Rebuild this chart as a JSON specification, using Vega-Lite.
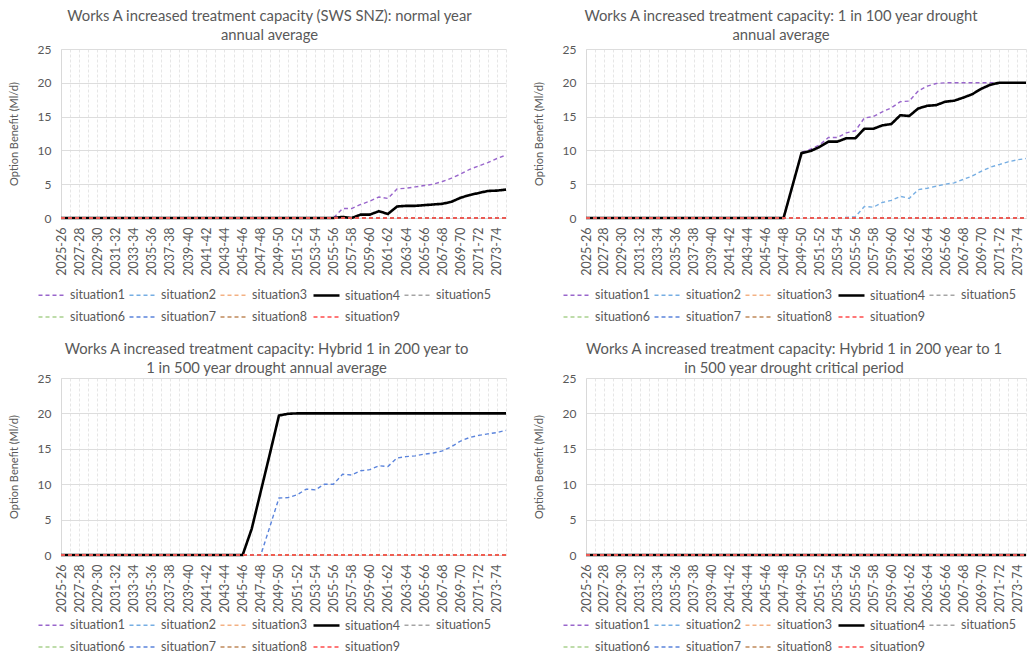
{
  "$schema": "https://vega.github.io/schema/vega-lite/v6.json",
  "background": "white",
  "padding": {"left": 8, "top": 9, "right": 0, "bottom": 0},
  "config": {
    "font": "Lato",
    "view": {"stroke": null},
    "title": {"fontSize": 14.8, "fontWeight": "normal", "color": "#595959", "lineHeight": 19, "offset": 0, "anchor": "middle"},
    "axis": {"labelColor": "#595959", "titleColor": "#595959", "titleFontWeight": "normal", "ticks": false, "domainColor": "#D9D9D9"},
    "axisX": {"title": null, "labelAngle": -90, "labelExpr": "toNumber(substring(datum.value,0,4)) % 2 == 1 ? datum.value : ''", "labelOverlap": false, "labelPadding": 9, "labelFontSize": 12.5, "grid": true, "gridDash": [3,2], "gridColor": "#E6E6E6"},
    "axisY": {"values": [0,5,10,15,20,25], "labelFontSize": 12, "labelPadding": 10, "titleFontSize": 11, "titlePadding": 18, "gridColor": "#DDDDDD", "domain": true},
    "legend": {"orient": "none", "legendX": -24, "direction": "horizontal", "columns": 5, "symbolType": "stroke", "symbolSize": 676, "labelFontSize": 12.5, "labelColor": "#595959", "rowPadding": 1, "columnPadding": 0, "labelOffset": 4},
    "line": {"strokeCap": "butt"}
  },
  "data": {"values": [
{"p":"A","year":"2025-26","s1":0,"s2":0,"s3":0,"s4":0,"s5":0,"s6":0,"s7":0,"s8":0,"s9":0},
{"p":"A","year":"2026-27","s1":0,"s2":0,"s3":0,"s4":0,"s5":0,"s6":0,"s7":0,"s8":0,"s9":0},
{"p":"A","year":"2027-28","s1":0,"s2":0,"s3":0,"s4":0,"s5":0,"s6":0,"s7":0,"s8":0,"s9":0},
{"p":"A","year":"2028-29","s1":0,"s2":0,"s3":0,"s4":0,"s5":0,"s6":0,"s7":0,"s8":0,"s9":0},
{"p":"A","year":"2029-30","s1":0,"s2":0,"s3":0,"s4":0,"s5":0,"s6":0,"s7":0,"s8":0,"s9":0},
{"p":"A","year":"2030-31","s1":0,"s2":0,"s3":0,"s4":0,"s5":0,"s6":0,"s7":0,"s8":0,"s9":0},
{"p":"A","year":"2031-32","s1":0,"s2":0,"s3":0,"s4":0,"s5":0,"s6":0,"s7":0,"s8":0,"s9":0},
{"p":"A","year":"2032-33","s1":0,"s2":0,"s3":0,"s4":0,"s5":0,"s6":0,"s7":0,"s8":0,"s9":0},
{"p":"A","year":"2033-34","s1":0,"s2":0,"s3":0,"s4":0,"s5":0,"s6":0,"s7":0,"s8":0,"s9":0},
{"p":"A","year":"2034-35","s1":0,"s2":0,"s3":0,"s4":0,"s5":0,"s6":0,"s7":0,"s8":0,"s9":0},
{"p":"A","year":"2035-36","s1":0,"s2":0,"s3":0,"s4":0,"s5":0,"s6":0,"s7":0,"s8":0,"s9":0},
{"p":"A","year":"2036-37","s1":0,"s2":0,"s3":0,"s4":0,"s5":0,"s6":0,"s7":0,"s8":0,"s9":0},
{"p":"A","year":"2037-38","s1":0,"s2":0,"s3":0,"s4":0,"s5":0,"s6":0,"s7":0,"s8":0,"s9":0},
{"p":"A","year":"2038-39","s1":0,"s2":0,"s3":0,"s4":0,"s5":0,"s6":0,"s7":0,"s8":0,"s9":0},
{"p":"A","year":"2039-40","s1":0,"s2":0,"s3":0,"s4":0,"s5":0,"s6":0,"s7":0,"s8":0,"s9":0},
{"p":"A","year":"2040-41","s1":0,"s2":0,"s3":0,"s4":0,"s5":0,"s6":0,"s7":0,"s8":0,"s9":0},
{"p":"A","year":"2041-42","s1":0,"s2":0,"s3":0,"s4":0,"s5":0,"s6":0,"s7":0,"s8":0,"s9":0},
{"p":"A","year":"2042-43","s1":0,"s2":0,"s3":0,"s4":0,"s5":0,"s6":0,"s7":0,"s8":0,"s9":0},
{"p":"A","year":"2043-44","s1":0,"s2":0,"s3":0,"s4":0,"s5":0,"s6":0,"s7":0,"s8":0,"s9":0},
{"p":"A","year":"2044-45","s1":0,"s2":0,"s3":0,"s4":0,"s5":0,"s6":0,"s7":0,"s8":0,"s9":0},
{"p":"A","year":"2045-46","s1":0,"s2":0,"s3":0,"s4":0,"s5":0,"s6":0,"s7":0,"s8":0,"s9":0},
{"p":"A","year":"2046-47","s1":0,"s2":0,"s3":0,"s4":0,"s5":0,"s6":0,"s7":0,"s8":0,"s9":0},
{"p":"A","year":"2047-48","s1":0,"s2":0,"s3":0,"s4":0,"s5":0,"s6":0,"s7":0,"s8":0,"s9":0},
{"p":"A","year":"2048-49","s1":0,"s2":0,"s3":0,"s4":0,"s5":0,"s6":0,"s7":0,"s8":0,"s9":0},
{"p":"A","year":"2049-50","s1":0,"s2":0,"s3":0,"s4":0,"s5":0,"s6":0,"s7":0,"s8":0,"s9":0},
{"p":"A","year":"2050-51","s1":0,"s2":0,"s3":0,"s4":0,"s5":0,"s6":0,"s7":0,"s8":0,"s9":0},
{"p":"A","year":"2051-52","s1":0,"s2":0,"s3":0,"s4":0,"s5":0,"s6":0,"s7":0,"s8":0,"s9":0},
{"p":"A","year":"2052-53","s1":0,"s2":0,"s3":0,"s4":0,"s5":0,"s6":0,"s7":0,"s8":0,"s9":0},
{"p":"A","year":"2053-54","s1":0,"s2":0,"s3":0,"s4":0,"s5":0,"s6":0,"s7":0,"s8":0,"s9":0},
{"p":"A","year":"2054-55","s1":0,"s2":0,"s3":0,"s4":0,"s5":0,"s6":0,"s7":0,"s8":0,"s9":0},
{"p":"A","year":"2055-56","s1":0,"s2":0,"s3":0,"s4":0,"s5":0,"s6":0,"s7":0,"s8":0,"s9":0},
{"p":"A","year":"2056-57","s1":1.4,"s2":0,"s3":0,"s4":0.15,"s5":0,"s6":0,"s7":0,"s8":0,"s9":0},
{"p":"A","year":"2057-58","s1":1.4,"s2":0,"s3":0,"s4":0,"s5":0,"s6":0,"s7":0,"s8":0,"s9":0},
{"p":"A","year":"2058-59","s1":2.0,"s2":0,"s3":0,"s4":0.5,"s5":0,"s6":0,"s7":0,"s8":0,"s9":0},
{"p":"A","year":"2059-60","s1":2.5,"s2":0,"s3":0,"s4":0.5,"s5":0,"s6":0,"s7":0,"s8":0,"s9":0},
{"p":"A","year":"2060-61","s1":3.1,"s2":0,"s3":0,"s4":1.0,"s5":0,"s6":0,"s7":0,"s8":0,"s9":0},
{"p":"A","year":"2061-62","s1":2.9,"s2":0,"s3":0,"s4":0.6,"s5":0,"s6":0,"s7":0,"s8":0,"s9":0},
{"p":"A","year":"2062-63","s1":4.3,"s2":0,"s3":0,"s4":1.7,"s5":0,"s6":0,"s7":0,"s8":0,"s9":0},
{"p":"A","year":"2063-64","s1":4.4,"s2":0,"s3":0,"s4":1.8,"s5":0,"s6":0,"s7":0,"s8":0,"s9":0},
{"p":"A","year":"2064-65","s1":4.6,"s2":0,"s3":0,"s4":1.8,"s5":0,"s6":0,"s7":0,"s8":0,"s9":0},
{"p":"A","year":"2065-66","s1":4.8,"s2":0,"s3":0,"s4":1.9,"s5":0,"s6":0,"s7":0,"s8":0,"s9":0},
{"p":"A","year":"2066-67","s1":5.0,"s2":0,"s3":0,"s4":2.0,"s5":0,"s6":0,"s7":0,"s8":0,"s9":0},
{"p":"A","year":"2067-68","s1":5.4,"s2":0,"s3":0,"s4":2.1,"s5":0,"s6":0,"s7":0,"s8":0,"s9":0},
{"p":"A","year":"2068-69","s1":5.9,"s2":0,"s3":0,"s4":2.4,"s5":0,"s6":0,"s7":0,"s8":0,"s9":0},
{"p":"A","year":"2069-70","s1":6.5,"s2":0,"s3":0,"s4":3.0,"s5":0,"s6":0,"s7":0,"s8":0,"s9":0},
{"p":"A","year":"2070-71","s1":7.2,"s2":0,"s3":0,"s4":3.4,"s5":0,"s6":0,"s7":0,"s8":0,"s9":0},
{"p":"A","year":"2071-72","s1":7.7,"s2":0,"s3":0,"s4":3.7,"s5":0,"s6":0,"s7":0,"s8":0,"s9":0},
{"p":"A","year":"2072-73","s1":8.2,"s2":0,"s3":0,"s4":4.0,"s5":0,"s6":0,"s7":0,"s8":0,"s9":0},
{"p":"A","year":"2073-74","s1":8.8,"s2":0,"s3":0,"s4":4.05,"s5":0,"s6":0,"s7":0,"s8":0,"s9":0},
{"p":"A","year":"2074-75","s1":9.3,"s2":0,"s3":0,"s4":4.2,"s5":0,"s6":0,"s7":0,"s8":0,"s9":0},
{"p":"B","year":"2025-26","s1":0,"s2":0,"s3":0,"s4":0,"s5":0,"s6":0,"s7":0,"s8":0,"s9":0},
{"p":"B","year":"2026-27","s1":0,"s2":0,"s3":0,"s4":0,"s5":0,"s6":0,"s7":0,"s8":0,"s9":0},
{"p":"B","year":"2027-28","s1":0,"s2":0,"s3":0,"s4":0,"s5":0,"s6":0,"s7":0,"s8":0,"s9":0},
{"p":"B","year":"2028-29","s1":0,"s2":0,"s3":0,"s4":0,"s5":0,"s6":0,"s7":0,"s8":0,"s9":0},
{"p":"B","year":"2029-30","s1":0,"s2":0,"s3":0,"s4":0,"s5":0,"s6":0,"s7":0,"s8":0,"s9":0},
{"p":"B","year":"2030-31","s1":0,"s2":0,"s3":0,"s4":0,"s5":0,"s6":0,"s7":0,"s8":0,"s9":0},
{"p":"B","year":"2031-32","s1":0,"s2":0,"s3":0,"s4":0,"s5":0,"s6":0,"s7":0,"s8":0,"s9":0},
{"p":"B","year":"2032-33","s1":0,"s2":0,"s3":0,"s4":0,"s5":0,"s6":0,"s7":0,"s8":0,"s9":0},
{"p":"B","year":"2033-34","s1":0,"s2":0,"s3":0,"s4":0,"s5":0,"s6":0,"s7":0,"s8":0,"s9":0},
{"p":"B","year":"2034-35","s1":0,"s2":0,"s3":0,"s4":0,"s5":0,"s6":0,"s7":0,"s8":0,"s9":0},
{"p":"B","year":"2035-36","s1":0,"s2":0,"s3":0,"s4":0,"s5":0,"s6":0,"s7":0,"s8":0,"s9":0},
{"p":"B","year":"2036-37","s1":0,"s2":0,"s3":0,"s4":0,"s5":0,"s6":0,"s7":0,"s8":0,"s9":0},
{"p":"B","year":"2037-38","s1":0,"s2":0,"s3":0,"s4":0,"s5":0,"s6":0,"s7":0,"s8":0,"s9":0},
{"p":"B","year":"2038-39","s1":0,"s2":0,"s3":0,"s4":0,"s5":0,"s6":0,"s7":0,"s8":0,"s9":0},
{"p":"B","year":"2039-40","s1":0,"s2":0,"s3":0,"s4":0,"s5":0,"s6":0,"s7":0,"s8":0,"s9":0},
{"p":"B","year":"2040-41","s1":0,"s2":0,"s3":0,"s4":0,"s5":0,"s6":0,"s7":0,"s8":0,"s9":0},
{"p":"B","year":"2041-42","s1":0,"s2":0,"s3":0,"s4":0,"s5":0,"s6":0,"s7":0,"s8":0,"s9":0},
{"p":"B","year":"2042-43","s1":0,"s2":0,"s3":0,"s4":0,"s5":0,"s6":0,"s7":0,"s8":0,"s9":0},
{"p":"B","year":"2043-44","s1":0,"s2":0,"s3":0,"s4":0,"s5":0,"s6":0,"s7":0,"s8":0,"s9":0},
{"p":"B","year":"2044-45","s1":0,"s2":0,"s3":0,"s4":0,"s5":0,"s6":0,"s7":0,"s8":0,"s9":0},
{"p":"B","year":"2045-46","s1":0,"s2":0,"s3":0,"s4":0,"s5":0,"s6":0,"s7":0,"s8":0,"s9":0},
{"p":"B","year":"2046-47","s1":0,"s2":0,"s3":0,"s4":0,"s5":0,"s6":0,"s7":0,"s8":0,"s9":0},
{"p":"B","year":"2047-48","s1":0,"s2":0,"s3":0,"s4":0,"s5":0,"s6":0,"s7":0,"s8":0,"s9":0},
{"p":"B","year":"2048-49","s1":4.8,"s2":0,"s3":0,"s4":4.8,"s5":0,"s6":0,"s7":0,"s8":0,"s9":0},
{"p":"B","year":"2049-50","s1":9.7,"s2":0,"s3":0,"s4":9.6,"s5":0,"s6":0,"s7":0,"s8":0,"s9":0},
{"p":"B","year":"2050-51","s1":10.2,"s2":0,"s3":0,"s4":9.9,"s5":0,"s6":0,"s7":0,"s8":0,"s9":0},
{"p":"B","year":"2051-52","s1":10.8,"s2":0,"s3":0,"s4":10.5,"s5":0,"s6":0,"s7":0,"s8":0,"s9":0},
{"p":"B","year":"2052-53","s1":11.9,"s2":0,"s3":0,"s4":11.3,"s5":0,"s6":0,"s7":0,"s8":0,"s9":0},
{"p":"B","year":"2053-54","s1":11.9,"s2":0,"s3":0,"s4":11.3,"s5":0,"s6":0,"s7":0,"s8":0,"s9":0},
{"p":"B","year":"2054-55","s1":12.6,"s2":0.1,"s3":0,"s4":11.8,"s5":0,"s6":0,"s7":0,"s8":0,"s9":0},
{"p":"B","year":"2055-56","s1":12.9,"s2":0.2,"s3":0,"s4":11.8,"s5":0,"s6":0,"s7":0,"s8":0,"s9":0},
{"p":"B","year":"2056-57","s1":14.8,"s2":1.7,"s3":0,"s4":13.2,"s5":0,"s6":0,"s7":0,"s8":0,"s9":0},
{"p":"B","year":"2057-58","s1":15.0,"s2":1.6,"s3":0,"s4":13.2,"s5":0,"s6":0,"s7":0,"s8":0,"s9":0},
{"p":"B","year":"2058-59","s1":15.7,"s2":2.3,"s3":0,"s4":13.7,"s5":0,"s6":0,"s7":0,"s8":0,"s9":0},
{"p":"B","year":"2059-60","s1":16.3,"s2":2.6,"s3":0,"s4":13.9,"s5":0,"s6":0,"s7":0,"s8":0,"s9":0},
{"p":"B","year":"2060-61","s1":17.2,"s2":3.2,"s3":0,"s4":15.2,"s5":0,"s6":0,"s7":0,"s8":0,"s9":0},
{"p":"B","year":"2061-62","s1":17.3,"s2":2.9,"s3":0,"s4":15.1,"s5":0,"s6":0,"s7":0,"s8":0,"s9":0},
{"p":"B","year":"2062-63","s1":18.8,"s2":4.2,"s3":0,"s4":16.2,"s5":0,"s6":0,"s7":0,"s8":0,"s9":0},
{"p":"B","year":"2063-64","s1":19.5,"s2":4.4,"s3":0,"s4":16.6,"s5":0,"s6":0,"s7":0,"s8":0,"s9":0},
{"p":"B","year":"2064-65","s1":19.9,"s2":4.7,"s3":0,"s4":16.7,"s5":0,"s6":0,"s7":0,"s8":0,"s9":0},
{"p":"B","year":"2065-66","s1":20,"s2":5.0,"s3":0,"s4":17.2,"s5":0,"s6":0,"s7":0,"s8":0,"s9":0},
{"p":"B","year":"2066-67","s1":20,"s2":5.2,"s3":0,"s4":17.35,"s5":0,"s6":0,"s7":0,"s8":0,"s9":0},
{"p":"B","year":"2067-68","s1":20,"s2":5.7,"s3":0,"s4":17.8,"s5":0,"s6":0,"s7":0,"s8":0,"s9":0},
{"p":"B","year":"2068-69","s1":20,"s2":6.2,"s3":0,"s4":18.3,"s5":0,"s6":0,"s7":0,"s8":0,"s9":0},
{"p":"B","year":"2069-70","s1":20,"s2":6.9,"s3":0,"s4":19.1,"s5":0,"s6":0,"s7":0,"s8":0,"s9":0},
{"p":"B","year":"2070-71","s1":20,"s2":7.5,"s3":0,"s4":19.7,"s5":0,"s6":0,"s7":0,"s8":0,"s9":0},
{"p":"B","year":"2071-72","s1":20,"s2":7.9,"s3":0,"s4":20,"s5":0,"s6":0,"s7":0,"s8":0,"s9":0},
{"p":"B","year":"2072-73","s1":20,"s2":8.3,"s3":0,"s4":20,"s5":0,"s6":0,"s7":0,"s8":0,"s9":0},
{"p":"B","year":"2073-74","s1":20,"s2":8.6,"s3":0,"s4":20,"s5":0,"s6":0,"s7":0,"s8":0,"s9":0},
{"p":"B","year":"2074-75","s1":20,"s2":8.8,"s3":0,"s4":20,"s5":0,"s6":0,"s7":0,"s8":0,"s9":0},
{"p":"C","year":"2025-26","s1":0,"s2":0,"s3":0,"s4":0,"s5":0,"s6":0,"s7":0,"s8":0,"s9":0},
{"p":"C","year":"2026-27","s1":0,"s2":0,"s3":0,"s4":0,"s5":0,"s6":0,"s7":0,"s8":0,"s9":0},
{"p":"C","year":"2027-28","s1":0,"s2":0,"s3":0,"s4":0,"s5":0,"s6":0,"s7":0,"s8":0,"s9":0},
{"p":"C","year":"2028-29","s1":0,"s2":0,"s3":0,"s4":0,"s5":0,"s6":0,"s7":0,"s8":0,"s9":0},
{"p":"C","year":"2029-30","s1":0,"s2":0,"s3":0,"s4":0,"s5":0,"s6":0,"s7":0,"s8":0,"s9":0},
{"p":"C","year":"2030-31","s1":0,"s2":0,"s3":0,"s4":0,"s5":0,"s6":0,"s7":0,"s8":0,"s9":0},
{"p":"C","year":"2031-32","s1":0,"s2":0,"s3":0,"s4":0,"s5":0,"s6":0,"s7":0,"s8":0,"s9":0},
{"p":"C","year":"2032-33","s1":0,"s2":0,"s3":0,"s4":0,"s5":0,"s6":0,"s7":0,"s8":0,"s9":0},
{"p":"C","year":"2033-34","s1":0,"s2":0,"s3":0,"s4":0,"s5":0,"s6":0,"s7":0,"s8":0,"s9":0},
{"p":"C","year":"2034-35","s1":0,"s2":0,"s3":0,"s4":0,"s5":0,"s6":0,"s7":0,"s8":0,"s9":0},
{"p":"C","year":"2035-36","s1":0,"s2":0,"s3":0,"s4":0,"s5":0,"s6":0,"s7":0,"s8":0,"s9":0},
{"p":"C","year":"2036-37","s1":0,"s2":0,"s3":0,"s4":0,"s5":0,"s6":0,"s7":0,"s8":0,"s9":0},
{"p":"C","year":"2037-38","s1":0,"s2":0,"s3":0,"s4":0,"s5":0,"s6":0,"s7":0,"s8":0,"s9":0},
{"p":"C","year":"2038-39","s1":0,"s2":0,"s3":0,"s4":0,"s5":0,"s6":0,"s7":0,"s8":0,"s9":0},
{"p":"C","year":"2039-40","s1":0,"s2":0,"s3":0,"s4":0,"s5":0,"s6":0,"s7":0,"s8":0,"s9":0},
{"p":"C","year":"2040-41","s1":0,"s2":0,"s3":0,"s4":0,"s5":0,"s6":0,"s7":0,"s8":0,"s9":0},
{"p":"C","year":"2041-42","s1":0,"s2":0,"s3":0,"s4":0,"s5":0,"s6":0,"s7":0,"s8":0,"s9":0},
{"p":"C","year":"2042-43","s1":0,"s2":0,"s3":0,"s4":0,"s5":0,"s6":0,"s7":0,"s8":0,"s9":0},
{"p":"C","year":"2043-44","s1":0,"s2":0,"s3":0,"s4":0,"s5":0,"s6":0,"s7":0,"s8":0,"s9":0},
{"p":"C","year":"2044-45","s1":0,"s2":0,"s3":0,"s4":0,"s5":0,"s6":0,"s7":0,"s8":0,"s9":0},
{"p":"C","year":"2045-46","s1":0,"s2":0,"s3":0,"s4":0,"s5":0,"s6":0,"s7":0,"s8":0,"s9":0},
{"p":"C","year":"2046-47","s1":0,"s2":0,"s3":0,"s4":3.7,"s5":0,"s6":0,"s7":0,"s8":0,"s9":0},
{"p":"C","year":"2047-48","s1":0,"s2":0,"s3":0,"s4":9.0,"s5":0,"s6":0,"s7":0,"s8":0,"s9":0},
{"p":"C","year":"2048-49","s1":0,"s2":0,"s3":0,"s4":14.3,"s5":0,"s6":0,"s7":4.0,"s8":0,"s9":0},
{"p":"C","year":"2049-50","s1":0,"s2":0,"s3":0,"s4":19.7,"s5":0,"s6":0,"s7":8.05,"s8":0,"s9":0},
{"p":"C","year":"2050-51","s1":0,"s2":0,"s3":0,"s4":19.95,"s5":0,"s6":0,"s7":8.1,"s8":0,"s9":0},
{"p":"C","year":"2051-52","s1":0,"s2":0,"s3":0,"s4":20,"s5":0,"s6":0,"s7":8.5,"s8":0,"s9":0},
{"p":"C","year":"2052-53","s1":0,"s2":0,"s3":0,"s4":20,"s5":0,"s6":0,"s7":9.3,"s8":0,"s9":0},
{"p":"C","year":"2053-54","s1":0,"s2":0,"s3":0,"s4":20,"s5":0,"s6":0,"s7":9.2,"s8":0,"s9":0},
{"p":"C","year":"2054-55","s1":0,"s2":0,"s3":0,"s4":20,"s5":0,"s6":0,"s7":10.0,"s8":0,"s9":0},
{"p":"C","year":"2055-56","s1":0,"s2":0,"s3":0,"s4":20,"s5":0,"s6":0,"s7":10.0,"s8":0,"s9":0},
{"p":"C","year":"2056-57","s1":0,"s2":0,"s3":0,"s4":20,"s5":0,"s6":0,"s7":11.4,"s8":0,"s9":0},
{"p":"C","year":"2057-58","s1":0,"s2":0,"s3":0,"s4":20,"s5":0,"s6":0,"s7":11.3,"s8":0,"s9":0},
{"p":"C","year":"2058-59","s1":0,"s2":0,"s3":0,"s4":20,"s5":0,"s6":0,"s7":11.9,"s8":0,"s9":0},
{"p":"C","year":"2059-60","s1":0,"s2":0,"s3":0,"s4":20,"s5":0,"s6":0,"s7":12.05,"s8":0,"s9":0},
{"p":"C","year":"2060-61","s1":0,"s2":0,"s3":0,"s4":20,"s5":0,"s6":0,"s7":12.6,"s8":0,"s9":0},
{"p":"C","year":"2061-62","s1":0,"s2":0,"s3":0,"s4":20,"s5":0,"s6":0,"s7":12.5,"s8":0,"s9":0},
{"p":"C","year":"2062-63","s1":0,"s2":0,"s3":0,"s4":20,"s5":0,"s6":0,"s7":13.7,"s8":0,"s9":0},
{"p":"C","year":"2063-64","s1":0,"s2":0,"s3":0,"s4":20,"s5":0,"s6":0,"s7":13.9,"s8":0,"s9":0},
{"p":"C","year":"2064-65","s1":0,"s2":0,"s3":0,"s4":20,"s5":0,"s6":0,"s7":14.0,"s8":0,"s9":0},
{"p":"C","year":"2065-66","s1":0,"s2":0,"s3":0,"s4":20,"s5":0,"s6":0,"s7":14.25,"s8":0,"s9":0},
{"p":"C","year":"2066-67","s1":0,"s2":0,"s3":0,"s4":20,"s5":0,"s6":0,"s7":14.4,"s8":0,"s9":0},
{"p":"C","year":"2067-68","s1":0,"s2":0,"s3":0,"s4":20,"s5":0,"s6":0,"s7":14.7,"s8":0,"s9":0},
{"p":"C","year":"2068-69","s1":0,"s2":0,"s3":0,"s4":20,"s5":0,"s6":0,"s7":15.3,"s8":0,"s9":0},
{"p":"C","year":"2069-70","s1":0,"s2":0,"s3":0,"s4":20,"s5":0,"s6":0,"s7":16.1,"s8":0,"s9":0},
{"p":"C","year":"2070-71","s1":0,"s2":0,"s3":0,"s4":20,"s5":0,"s6":0,"s7":16.6,"s8":0,"s9":0},
{"p":"C","year":"2071-72","s1":0,"s2":0,"s3":0,"s4":20,"s5":0,"s6":0,"s7":16.9,"s8":0,"s9":0},
{"p":"C","year":"2072-73","s1":0,"s2":0,"s3":0,"s4":20,"s5":0,"s6":0,"s7":17.1,"s8":0,"s9":0},
{"p":"C","year":"2073-74","s1":0,"s2":0,"s3":0,"s4":20,"s5":0,"s6":0,"s7":17.3,"s8":0,"s9":0},
{"p":"C","year":"2074-75","s1":0,"s2":0,"s3":0,"s4":20,"s5":0,"s6":0,"s7":17.6,"s8":0,"s9":0},
{"p":"D","year":"2025-26","s1":0,"s2":0,"s3":0,"s4":0,"s5":0,"s6":0,"s7":0,"s8":0,"s9":0},
{"p":"D","year":"2026-27","s1":0,"s2":0,"s3":0,"s4":0,"s5":0,"s6":0,"s7":0,"s8":0,"s9":0},
{"p":"D","year":"2027-28","s1":0,"s2":0,"s3":0,"s4":0,"s5":0,"s6":0,"s7":0,"s8":0,"s9":0},
{"p":"D","year":"2028-29","s1":0,"s2":0,"s3":0,"s4":0,"s5":0,"s6":0,"s7":0,"s8":0,"s9":0},
{"p":"D","year":"2029-30","s1":0,"s2":0,"s3":0,"s4":0,"s5":0,"s6":0,"s7":0,"s8":0,"s9":0},
{"p":"D","year":"2030-31","s1":0,"s2":0,"s3":0,"s4":0,"s5":0,"s6":0,"s7":0,"s8":0,"s9":0},
{"p":"D","year":"2031-32","s1":0,"s2":0,"s3":0,"s4":0,"s5":0,"s6":0,"s7":0,"s8":0,"s9":0},
{"p":"D","year":"2032-33","s1":0,"s2":0,"s3":0,"s4":0,"s5":0,"s6":0,"s7":0,"s8":0,"s9":0},
{"p":"D","year":"2033-34","s1":0,"s2":0,"s3":0,"s4":0,"s5":0,"s6":0,"s7":0,"s8":0,"s9":0},
{"p":"D","year":"2034-35","s1":0,"s2":0,"s3":0,"s4":0,"s5":0,"s6":0,"s7":0,"s8":0,"s9":0},
{"p":"D","year":"2035-36","s1":0,"s2":0,"s3":0,"s4":0,"s5":0,"s6":0,"s7":0,"s8":0,"s9":0},
{"p":"D","year":"2036-37","s1":0,"s2":0,"s3":0,"s4":0,"s5":0,"s6":0,"s7":0,"s8":0,"s9":0},
{"p":"D","year":"2037-38","s1":0,"s2":0,"s3":0,"s4":0,"s5":0,"s6":0,"s7":0,"s8":0,"s9":0},
{"p":"D","year":"2038-39","s1":0,"s2":0,"s3":0,"s4":0,"s5":0,"s6":0,"s7":0,"s8":0,"s9":0},
{"p":"D","year":"2039-40","s1":0,"s2":0,"s3":0,"s4":0,"s5":0,"s6":0,"s7":0,"s8":0,"s9":0},
{"p":"D","year":"2040-41","s1":0,"s2":0,"s3":0,"s4":0,"s5":0,"s6":0,"s7":0,"s8":0,"s9":0},
{"p":"D","year":"2041-42","s1":0,"s2":0,"s3":0,"s4":0,"s5":0,"s6":0,"s7":0,"s8":0,"s9":0},
{"p":"D","year":"2042-43","s1":0,"s2":0,"s3":0,"s4":0,"s5":0,"s6":0,"s7":0,"s8":0,"s9":0},
{"p":"D","year":"2043-44","s1":0,"s2":0,"s3":0,"s4":0,"s5":0,"s6":0,"s7":0,"s8":0,"s9":0},
{"p":"D","year":"2044-45","s1":0,"s2":0,"s3":0,"s4":0,"s5":0,"s6":0,"s7":0,"s8":0,"s9":0},
{"p":"D","year":"2045-46","s1":0,"s2":0,"s3":0,"s4":0,"s5":0,"s6":0,"s7":0,"s8":0,"s9":0},
{"p":"D","year":"2046-47","s1":0,"s2":0,"s3":0,"s4":0,"s5":0,"s6":0,"s7":0,"s8":0,"s9":0},
{"p":"D","year":"2047-48","s1":0,"s2":0,"s3":0,"s4":0,"s5":0,"s6":0,"s7":0,"s8":0,"s9":0},
{"p":"D","year":"2048-49","s1":0,"s2":0,"s3":0,"s4":0,"s5":0,"s6":0,"s7":0,"s8":0,"s9":0},
{"p":"D","year":"2049-50","s1":0,"s2":0,"s3":0,"s4":0,"s5":0,"s6":0,"s7":0,"s8":0,"s9":0},
{"p":"D","year":"2050-51","s1":0,"s2":0,"s3":0,"s4":0,"s5":0,"s6":0,"s7":0,"s8":0,"s9":0},
{"p":"D","year":"2051-52","s1":0,"s2":0,"s3":0,"s4":0,"s5":0,"s6":0,"s7":0,"s8":0,"s9":0},
{"p":"D","year":"2052-53","s1":0,"s2":0,"s3":0,"s4":0,"s5":0,"s6":0,"s7":0,"s8":0,"s9":0},
{"p":"D","year":"2053-54","s1":0,"s2":0,"s3":0,"s4":0,"s5":0,"s6":0,"s7":0,"s8":0,"s9":0},
{"p":"D","year":"2054-55","s1":0,"s2":0,"s3":0,"s4":0,"s5":0,"s6":0,"s7":0,"s8":0,"s9":0},
{"p":"D","year":"2055-56","s1":0,"s2":0,"s3":0,"s4":0,"s5":0,"s6":0,"s7":0,"s8":0,"s9":0},
{"p":"D","year":"2056-57","s1":0,"s2":0,"s3":0,"s4":0,"s5":0,"s6":0,"s7":0,"s8":0,"s9":0},
{"p":"D","year":"2057-58","s1":0,"s2":0,"s3":0,"s4":0,"s5":0,"s6":0,"s7":0,"s8":0,"s9":0},
{"p":"D","year":"2058-59","s1":0,"s2":0,"s3":0,"s4":0,"s5":0,"s6":0,"s7":0,"s8":0,"s9":0},
{"p":"D","year":"2059-60","s1":0,"s2":0,"s3":0,"s4":0,"s5":0,"s6":0,"s7":0,"s8":0,"s9":0},
{"p":"D","year":"2060-61","s1":0,"s2":0,"s3":0,"s4":0,"s5":0,"s6":0,"s7":0,"s8":0,"s9":0},
{"p":"D","year":"2061-62","s1":0,"s2":0,"s3":0,"s4":0,"s5":0,"s6":0,"s7":0,"s8":0,"s9":0},
{"p":"D","year":"2062-63","s1":0,"s2":0,"s3":0,"s4":0,"s5":0,"s6":0,"s7":0,"s8":0,"s9":0},
{"p":"D","year":"2063-64","s1":0,"s2":0,"s3":0,"s4":0,"s5":0,"s6":0,"s7":0,"s8":0,"s9":0},
{"p":"D","year":"2064-65","s1":0,"s2":0,"s3":0,"s4":0,"s5":0,"s6":0,"s7":0,"s8":0,"s9":0},
{"p":"D","year":"2065-66","s1":0,"s2":0,"s3":0,"s4":0,"s5":0,"s6":0,"s7":0,"s8":0,"s9":0},
{"p":"D","year":"2066-67","s1":0,"s2":0,"s3":0,"s4":0,"s5":0,"s6":0,"s7":0,"s8":0,"s9":0},
{"p":"D","year":"2067-68","s1":0,"s2":0,"s3":0,"s4":0,"s5":0,"s6":0,"s7":0,"s8":0,"s9":0},
{"p":"D","year":"2068-69","s1":0,"s2":0,"s3":0,"s4":0,"s5":0,"s6":0,"s7":0,"s8":0,"s9":0},
{"p":"D","year":"2069-70","s1":0,"s2":0,"s3":0,"s4":0,"s5":0,"s6":0,"s7":0,"s8":0,"s9":0},
{"p":"D","year":"2070-71","s1":0,"s2":0,"s3":0,"s4":0,"s5":0,"s6":0,"s7":0,"s8":0,"s9":0},
{"p":"D","year":"2071-72","s1":0,"s2":0,"s3":0,"s4":0,"s5":0,"s6":0,"s7":0,"s8":0,"s9":0},
{"p":"D","year":"2072-73","s1":0,"s2":0,"s3":0,"s4":0,"s5":0,"s6":0,"s7":0,"s8":0,"s9":0},
{"p":"D","year":"2073-74","s1":0,"s2":0,"s3":0,"s4":0,"s5":0,"s6":0,"s7":0,"s8":0,"s9":0},
{"p":"D","year":"2074-75","s1":0,"s2":0,"s3":0,"s4":0,"s5":0,"s6":0,"s7":0,"s8":0,"s9":0}
  ]},
  "columns": 2,
  "spacing": {"row": 18, "column": 20},
  "resolve": {
    "scale": {"color": "independent", "strokeDash": "independent", "strokeWidth": "independent"},
    "legend": {"color": "independent", "strokeDash": "independent", "strokeWidth": "independent"}
  },
  "concat": [
    {
      "title": {"text": ["Works A increased treatment capacity (SWS SNZ): normal year", "annual average"], "dx": -14, "offset": 0},
      "width": 445, "height": 169,
      "transform": [{"filter": "datum.p == 'A'"}, {"fold": ["s1","s2","s3","s4","s5","s6","s7","s8","s9"], "as": ["situation","value"]}],
      "mark": {"type": "line"},
      "encoding": {
        "x": {"field": "year", "type": "ordinal", "scale": {"type": "point", "padding": 0}},
        "y": {"field": "value", "type": "quantitative", "scale": {"domain": [0,25], "nice": false}, "axis": {"title": "Option Benefit  (Ml/d)"}},
        "color": {"field": "situation", "type": "nominal", "scale": {"domain": ["s1","s2","s3","s4","s5","s6","s7","s8","s9"], "range": ["#9966CC","#76AEE3","#F4B183","#000000","#A5A5A5","#A9D18E","#5B84DC","#C0895A","#FF4B4B"]}, "legend": {"title": null, "legendY": 232, "labelExpr": "replace(datum.label, 's', 'situation')"}},
        "strokeDash": {"field": "situation", "type": "nominal", "scale": {"domain": ["s1","s2","s3","s4","s5","s6","s7","s8","s9"], "range": [[4,3],[4,3],[4,3],[1,0],[4,3],[4,3],[4,3],[4,3],[4,3]]}, "legend": {"title": null, "legendY": 232, "labelExpr": "replace(datum.label, 's', 'situation')"}},
        "strokeWidth": {"field": "situation", "type": "nominal", "scale": {"type": "ordinal", "domain": ["s1","s2","s3","s4","s5","s6","s7","s8","s9"], "range": [1.4,1.4,1.4,2.6,1.4,1.4,1.4,1.4,1.4]}, "legend": {"title": null, "legendY": 232, "labelExpr": "replace(datum.label, 's', 'situation')"}}
      }
    },
    {
      "title": {"text": ["Works A increased treatment capacity: 1 in 100 year drought", "annual average"], "dx": -25, "offset": 0},
      "width": 440, "height": 169,
      "transform": [{"filter": "datum.p == 'B'"}, {"fold": ["s1","s2","s3","s4","s5","s6","s7","s8","s9"], "as": ["situation","value"]}],
      "mark": {"type": "line"},
      "encoding": {
        "x": {"field": "year", "type": "ordinal", "scale": {"type": "point", "padding": 0}},
        "y": {"field": "value", "type": "quantitative", "scale": {"domain": [0,25], "nice": false}, "axis": {"title": "Option Benefit (Ml/d)"}},
        "color": {"field": "situation", "type": "nominal", "scale": {"domain": ["s1","s2","s3","s4","s5","s6","s7","s8","s9"], "range": ["#9966CC","#76AEE3","#F4B183","#000000","#A5A5A5","#A9D18E","#5B84DC","#C0895A","#FF4B4B"]}, "legend": {"title": null, "legendY": 232, "labelExpr": "replace(datum.label, 's', 'situation')"}},
        "strokeDash": {"field": "situation", "type": "nominal", "scale": {"domain": ["s1","s2","s3","s4","s5","s6","s7","s8","s9"], "range": [[4,3],[4,3],[4,3],[1,0],[4,3],[4,3],[4,3],[4,3],[4,3]]}, "legend": {"title": null, "legendY": 232, "labelExpr": "replace(datum.label, 's', 'situation')"}},
        "strokeWidth": {"field": "situation", "type": "nominal", "scale": {"type": "ordinal", "domain": ["s1","s2","s3","s4","s5","s6","s7","s8","s9"], "range": [1.4,1.4,1.4,2.6,1.4,1.4,1.4,1.4,1.4]}, "legend": {"title": null, "legendY": 232, "labelExpr": "replace(datum.label, 's', 'situation')"}}
      }
    },
    {
      "title": {"text": ["Works A increased treatment capacity: Hybrid 1 in 200 year to", "1 in 500 year drought annual average"], "dx": -17, "offset": -4},
      "width": 445, "height": 177,
      "transform": [{"filter": "datum.p == 'C'"}, {"fold": ["s1","s2","s3","s4","s5","s6","s7","s8","s9"], "as": ["situation","value"]}],
      "mark": {"type": "line"},
      "encoding": {
        "x": {"field": "year", "type": "ordinal", "scale": {"type": "point", "padding": 0}},
        "y": {"field": "value", "type": "quantitative", "scale": {"domain": [0,25], "nice": false}, "axis": {"title": "Option Benefit (Ml/d)"}},
        "color": {"field": "situation", "type": "nominal", "scale": {"domain": ["s1","s2","s3","s4","s5","s6","s7","s8","s9"], "range": ["#9966CC","#76AEE3","#F4B183","#000000","#A5A5A5","#A9D18E","#5B84DC","#C0895A","#FF4B4B"]}, "legend": {"title": null, "legendY": 233, "labelExpr": "replace(datum.label, 's', 'situation')"}},
        "strokeDash": {"field": "situation", "type": "nominal", "scale": {"domain": ["s1","s2","s3","s4","s5","s6","s7","s8","s9"], "range": [[4,3],[4,3],[4,3],[1,0],[4,3],[4,3],[4,3],[4,3],[4,3]]}, "legend": {"title": null, "legendY": 233, "labelExpr": "replace(datum.label, 's', 'situation')"}},
        "strokeWidth": {"field": "situation", "type": "nominal", "scale": {"type": "ordinal", "domain": ["s1","s2","s3","s4","s5","s6","s7","s8","s9"], "range": [1.4,1.4,1.4,2.6,1.4,1.4,1.4,1.4,1.4]}, "legend": {"title": null, "legendY": 233, "labelExpr": "replace(datum.label, 's', 'situation')"}}
      }
    },
    {
      "title": {"text": ["Works A increased treatment capacity: Hybrid 1 in 200 year to 1", "in 500 year drought critical period"], "dx": -12, "offset": -4},
      "width": 440, "height": 177,
      "transform": [{"filter": "datum.p == 'D'"}, {"fold": ["s1","s2","s3","s4","s5","s6","s7","s8","s9"], "as": ["situation","value"]}],
      "mark": {"type": "line"},
      "encoding": {
        "x": {"field": "year", "type": "ordinal", "scale": {"type": "point", "padding": 0}},
        "y": {"field": "value", "type": "quantitative", "scale": {"domain": [0,25], "nice": false}, "axis": {"title": "Option Benefit (Ml/d)"}},
        "color": {"field": "situation", "type": "nominal", "scale": {"domain": ["s1","s2","s3","s4","s5","s6","s7","s8","s9"], "range": ["#9966CC","#76AEE3","#F4B183","#000000","#A5A5A5","#A9D18E","#5B84DC","#C0895A","#FF4B4B"]}, "legend": {"title": null, "legendY": 233, "labelExpr": "replace(datum.label, 's', 'situation')"}},
        "strokeDash": {"field": "situation", "type": "nominal", "scale": {"domain": ["s1","s2","s3","s4","s5","s6","s7","s8","s9"], "range": [[4,3],[4,3],[4,3],[1,0],[4,3],[4,3],[4,3],[4,3],[4,3]]}, "legend": {"title": null, "legendY": 233, "labelExpr": "replace(datum.label, 's', 'situation')"}},
        "strokeWidth": {"field": "situation", "type": "nominal", "scale": {"type": "ordinal", "domain": ["s1","s2","s3","s4","s5","s6","s7","s8","s9"], "range": [1.4,1.4,1.4,2.6,1.4,1.4,1.4,1.4,1.4]}, "legend": {"title": null, "legendY": 233, "labelExpr": "replace(datum.label, 's', 'situation')"}}
      }
    }
  ]
}
